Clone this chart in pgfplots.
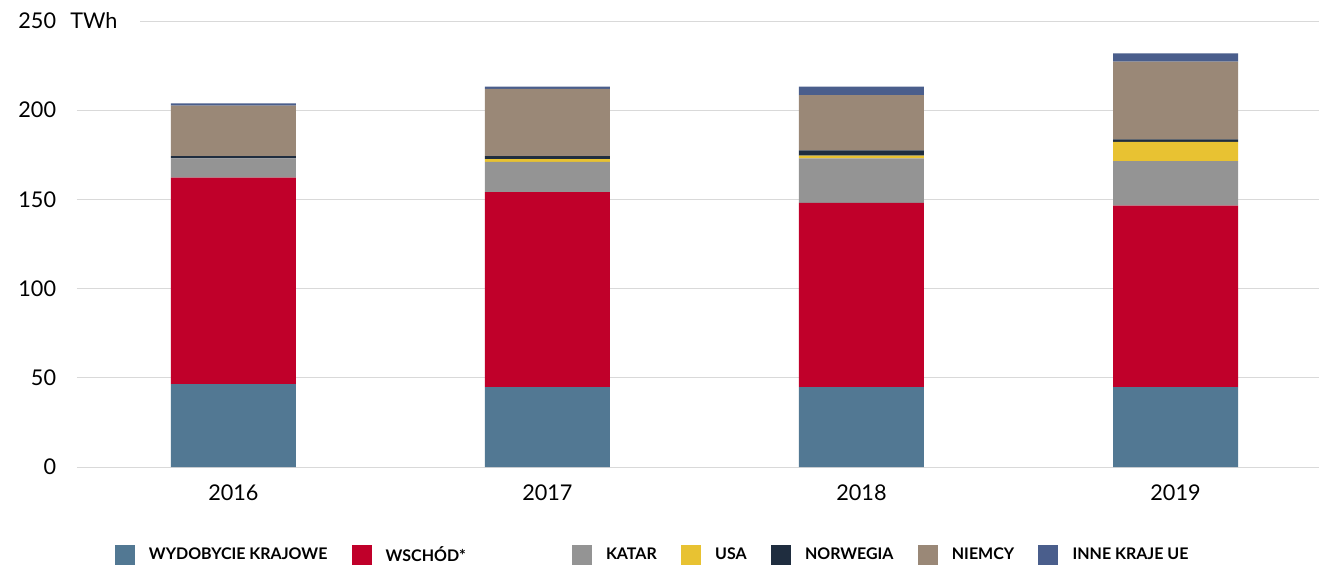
\documentclass[border=0pt]{standalone}
\usepackage{pgfplots}
\usepackage{pgfplotstable}
\pgfplotsset{compat=1.18}
\usepackage{fontspec}
\setmainfont{Lato}

\definecolor{cDom}{HTML}{527893}
\definecolor{cWsch}{HTML}{C0002A}
\definecolor{cKat}{HTML}{949494}
\definecolor{cUsa}{HTML}{E8C232}
\definecolor{cNor}{HTML}{1F2D3F}
\definecolor{cNie}{HTML}{9A8877}
\definecolor{cInne}{HTML}{4A5E8C}

% TWh per year, by source
\pgfplotstableread{
x dom wsch kat usa nor nie inne
0 46.5 115.7 10.8 0.0 1.3 28.2 1.3
1 44.8 109.3 17.0 1.5 1.7 37.6 1.3
2 44.8 103.2 25.0 1.5 3.0 31.0 4.7
3 44.8 101.7 25.0 10.8 1.4 43.5 4.7
}\gasdata

\begin{document}
\begin{tikzpicture}
\begin{axis}[
    scale only axis,
    width=745.2pt, height=267.6pt,
    ybar stacked,
    bar width=0.398,
    xmin=-0.498, xmax=3.457,
    ymin=0, ymax=250,
    ytick={0,50,100,150,200,250},
    xtick=data,
    xticklabels={2016,2017,2018,2019},
    axis line style={draw=none},
    tick style={draw=none},
    ymajorgrids,
    major grid style={draw=black!15, line width=0.6pt},
    extra y ticks={0},
    extra y tick labels={},
    extra y tick style={grid style={draw=black!22, line width=1pt}},
    /pgf/number format/assume math mode=true,
    tick label style={font=\fontsize{13}{15}\selectfont},
    yticklabel style={xshift=-9pt},
    xticklabel style={yshift=-7pt},
    legend columns=-1,
    legend style={draw=none, at={(0.464,-0.198)}, anchor=center,
        font=\bfseries\fontsize{9.6}{11}\selectfont,
        /tikz/every odd column/.append style={column sep=6.5pt},
        /tikz/every even column/.append style={column sep=12.5pt}},
    legend image code/.code={\fill[#1] (0pt,-6pt) rectangle (12pt,6pt);},
]
\addplot[fill=cDom, draw=none] table[x=x, y=dom] {\gasdata};
\addplot[fill=cWsch, draw=none] table[x=x, y=wsch] {\gasdata};
\addplot[fill=cKat, draw=none] table[x=x, y=kat] {\gasdata};
\addplot[fill=cUsa, draw=none] table[x=x, y=usa] {\gasdata};
\addplot[fill=cNor, draw=none] table[x=x, y=nor] {\gasdata};
\addplot[fill=cNie, draw=none] table[x=x, y=nie] {\gasdata};
\addplot[fill=cInne, draw=none] table[x=x, y=inne] {\gasdata};
\legend{WYDOBYCIE KRAJOWE, WSCHÓD*\rule{49pt}{0pt}, KATAR, USA, NORWEGIA, NIEMCY, INNE KRAJE UE}
\end{axis}
\fill[white] (-1pt,264pt) rectangle (37.8pt,271pt);
\node[anchor=west, inner sep=0pt, font=\fontsize{13}{15}\selectfont] at (-4.2pt,267.6pt) {TWh};
\pgfresetboundingbox
\path[use as bounding box] (-46.2pt,-58.2pt) rectangle (745.2pt,280.2pt);
\end{tikzpicture}
\end{document}
